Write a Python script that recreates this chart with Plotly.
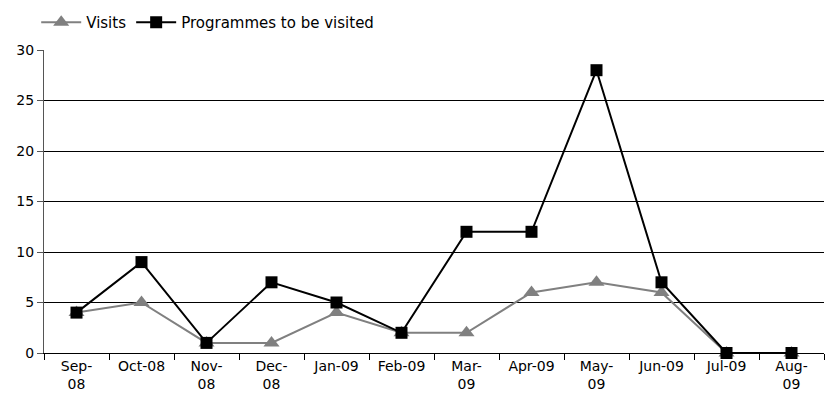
import plotly.graph_objects as go

months = ["Sep-<br>08", "Oct-08", "Nov-<br>08", "Dec-<br>08", "Jan-09", "Feb-09",
          "Mar-<br>09", "Apr-09", "May-<br>09", "Jun-09", "Jul-09", "Aug-<br>09"]
visits = [4, 5, 1, 1, 4, 2, 2, 6, 7, 6, 0, 0]
programmes = [4, 9, 1, 7, 5, 2, 12, 12, 28, 7, 0, 0]

fig = go.Figure()
fig.add_trace(go.Scatter(
    x=months, y=visits, name="Visits", mode="lines+markers",
    line=dict(color="#808080", width=2),
    marker=dict(symbol="triangle-up", size=14, color="#808080"),
    cliponaxis=False,
))
fig.add_trace(go.Scatter(
    x=months, y=programmes, name="Programmes to be visited", mode="lines+markers",
    line=dict(color="#000000", width=2),
    marker=dict(symbol="square", size=12, color="#000000"),
    cliponaxis=False,
))

fig.update_layout(
    width=825, height=407,
    margin=dict(l=44, r=1, t=50, b=54),
    paper_bgcolor="white", plot_bgcolor="white",
    font=dict(family="DejaVu Sans, Liberation Sans, Arial, sans-serif", size=14, color="black"),
    legend=dict(orientation="h", x=-0.01, y=0.985, xanchor="left", yanchor="top",
                yref="container", font=dict(size=15), itemwidth=40),
    showlegend=True,
)
fig.update_xaxes(
    type="category", range=[-0.5, 11.5], tickson="boundaries", ticks="outside",
    ticklen=6, tickcolor="black", showline=True, linecolor="black", linewidth=1,
    showgrid=False, tickfont=dict(size=14), tickangle=0,
)
fig.update_yaxes(
    range=[0, 30], dtick=5, ticks="outside", ticklen=6, tickcolor="#555555",
    showline=True, linecolor="#555555", linewidth=1,
    showgrid=True, gridcolor="black", gridwidth=1, zeroline=False,
    tickfont=dict(size=14),
)

fig.write_html("out.html")
